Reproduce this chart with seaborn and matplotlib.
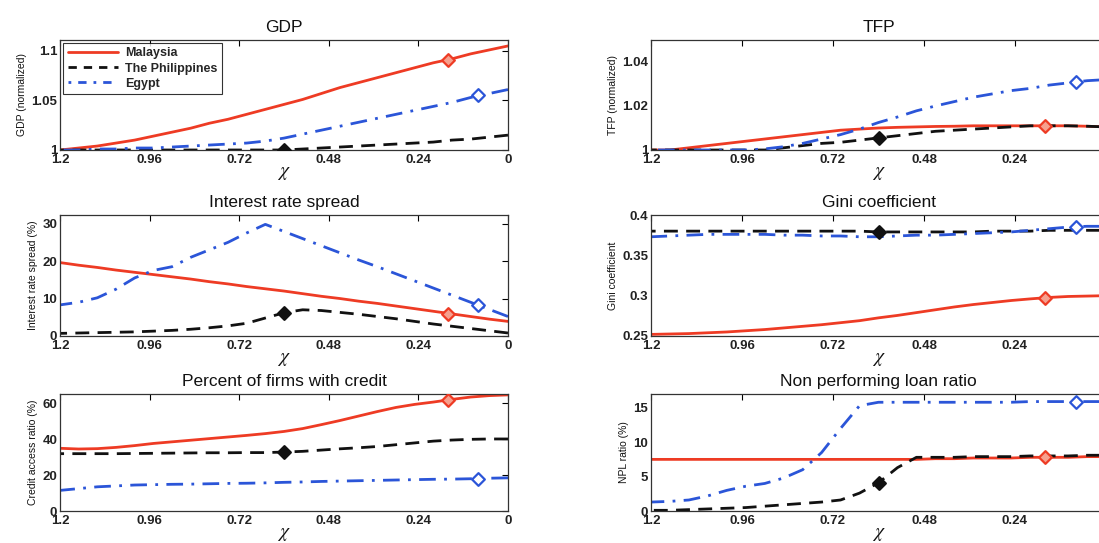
import numpy as np
import pandas as pd
import matplotlib
matplotlib.use("Agg")
import matplotlib.pyplot as plt
from matplotlib.lines import Line2D
import seaborn as sns

# ---------------- data ----------------
chi = [1.2, 1.15, 1.1, 1.05, 1.0, 0.95, 0.9, 0.85, 0.8, 0.75, 0.7, 0.65, 0.6,
       0.55, 0.5, 0.45, 0.4, 0.35, 0.3, 0.25, 0.2, 0.15, 0.1, 0.05, 0.0]

countries = ["Malaysia", "The Philippines", "Egypt"]
marker_chi = [0.16, 0.6, 0.08]   # calibrated chi for each country

# GDP (normalized)
gdp_mal = [1.000, 1.002, 1.004, 1.007, 1.010, 1.014, 1.018, 1.022, 1.027, 1.031, 1.036, 1.041, 1.046,
           1.051, 1.057, 1.063, 1.068, 1.073, 1.078, 1.083, 1.088, 1.092, 1.097, 1.101, 1.105]
gdp_phi = [1.000, 1.000, 1.000, 1.000, 1.000, 1.000, 1.000, 1.000, 1.000, 1.000, 1.000, 1.000, 1.000,
           1.001, 1.002, 1.003, 1.004, 1.005, 1.006, 1.007, 1.008, 1.010, 1.011, 1.013, 1.015]
gdp_egy = [1.000, 1.000, 1.001, 1.001, 1.002, 1.002, 1.003, 1.004, 1.005, 1.006, 1.007, 1.009, 1.012,
           1.016, 1.020, 1.024, 1.028, 1.032, 1.036, 1.040, 1.044, 1.048, 1.053, 1.057, 1.061]
gdp_mk = [1.091, 1.000, 1.055]

# TFP (normalized)
tfp_mal = [1.000, 1.000, 1.001, 1.002, 1.003, 1.004, 1.005, 1.006, 1.007, 1.008, 1.009, 1.0095, 1.010,
           1.0103, 1.0105, 1.0107, 1.0108, 1.011, 1.011, 1.011, 1.011, 1.011, 1.011, 1.0108, 1.0105]
tfp_phi = [1.000, 1.000, 1.000, 1.000, 1.000, 1.000, 1.000, 1.001, 1.002, 1.003, 1.0035, 1.0045, 1.0055,
           1.0065, 1.0075, 1.0085, 1.009, 1.0095, 1.010, 1.0105, 1.011, 1.011, 1.011, 1.0108, 1.0105]
tfp_egy = [1.000, 1.000, 1.000, 1.000, 1.000, 1.000, 1.0005, 1.0015, 1.003, 1.005, 1.007, 1.0095, 1.0125,
           1.015, 1.0178, 1.020, 1.022, 1.024, 1.0255, 1.027, 1.028, 1.0295, 1.0305, 1.0315, 1.032]
tfp_mk = [1.011, 1.0055, 1.031]

# Interest rate spread (%)
irs_mal = [19.6, 18.9, 18.3, 17.6, 17.0, 16.4, 15.8, 15.2, 14.5, 13.9, 13.2, 12.6, 12.0,
           11.3, 10.6, 10.0, 9.3, 8.7, 8.0, 7.3, 6.6, 5.9, 5.2, 4.5, 3.9]
irs_phi = [0.7, 0.8, 0.9, 1.0, 1.1, 1.3, 1.5, 1.8, 2.2, 2.7, 3.4, 4.8, 6.2,
           7.0, 6.8, 6.3, 5.8, 5.2, 4.6, 3.9, 3.2, 2.6, 2.0, 1.4, 0.8]
irs_egy = [8.3, 9.0, 10.2, 12.5, 15.5, 17.5, 18.5, 21.0, 23.0, 25.0, 27.5, 29.8, 27.9,
           26.0, 24.1, 22.2, 20.3, 18.5, 16.6, 14.7, 12.8, 10.9, 9.0, 7.1, 5.2]
irs_mk = [6.0, 6.2, 8.3]

# Gini coefficient
gini_mal = [0.252, 0.2525, 0.253, 0.254, 0.255, 0.2565, 0.258, 0.260, 0.262, 0.264, 0.2665, 0.269, 0.2725,
            0.2755, 0.279, 0.2825, 0.286, 0.289, 0.2915, 0.294, 0.296, 0.2978, 0.299, 0.2995, 0.300]
gini_phi = [0.380, 0.380, 0.380, 0.380, 0.380, 0.380, 0.380, 0.380, 0.380, 0.380, 0.380, 0.380, 0.379,
            0.379, 0.379, 0.379, 0.379, 0.379, 0.380, 0.380, 0.380, 0.381, 0.381, 0.381, 0.381]
gini_egy = [0.373, 0.374, 0.375, 0.376, 0.376, 0.376, 0.376, 0.375, 0.375, 0.374, 0.374, 0.373, 0.373,
            0.374, 0.375, 0.375, 0.376, 0.377, 0.378, 0.379, 0.381, 0.383, 0.385, 0.386, 0.386]
gini_mk = [0.2976, 0.379, 0.385]

# Percent of firms with credit (%)
cr_mal = [35.0, 34.6, 34.8, 35.5, 36.5, 37.7, 38.6, 39.5, 40.4, 41.3, 42.2, 43.2, 44.4,
          46.0, 48.2, 50.5, 53.0, 55.5, 57.8, 59.5, 60.8, 62.3, 63.6, 64.4, 64.8]
cr_phi = [32.0, 32.0, 32.0, 32.0, 32.1, 32.2, 32.3, 32.4, 32.5, 32.5, 32.6, 32.6, 32.9,
          33.3, 34.0, 34.7, 35.3, 36.0, 37.0, 38.0, 39.0, 39.6, 40.0, 40.2, 40.2]
cr_egy = [11.5, 12.5, 13.5, 14.0, 14.5, 14.7, 14.9, 15.0, 15.2, 15.4, 15.5, 15.7, 16.0,
          16.2, 16.5, 16.7, 16.9, 17.1, 17.3, 17.5, 17.7, 17.8, 18.0, 18.3, 18.5]
cr_mk = [61.8, 32.9, 18.0]

# Non performing loan ratio (%)
npl_mal = [7.5, 7.5, 7.5, 7.5, 7.5, 7.5, 7.5, 7.5, 7.5, 7.5, 7.5, 7.5, 7.5,
           7.5, 7.5, 7.6, 7.6, 7.7, 7.7, 7.7, 7.8, 7.8, 7.8, 7.9, 7.9]
npl_phi = [0.1, 0.1, 0.2, 0.3, 0.4, 0.5, 0.7, 0.9, 1.1, 1.3, 1.6, 2.6, 4.1,
           6.3, 7.8, 7.8, 7.8, 7.9, 7.9, 7.9, 8.0, 8.0, 8.0, 8.1, 8.1]
npl_egy = [1.3, 1.4, 1.6, 2.2, 3.0, 3.6, 4.0, 4.8, 6.0, 8.5, 12.0, 15.3, 15.8,
           15.8, 15.8, 15.8, 15.8, 15.8, 15.8, 15.8, 15.9, 15.9, 15.9, 15.9, 15.9]
npl_mk = [7.8, 4.1, 15.9]

xticks = [1.2, 0.96, 0.72, 0.48, 0.24, 0.0]
xticklabels = ["1.2", "0.96", "0.72", "0.48", "0.24", "0"]

panels = [
    dict(title="GDP", ylabel="GDP (normalized)", series=[gdp_mal, gdp_phi, gdp_egy], mk=gdp_mk,
         ylim=(1.0, 1.111), yticks=[1.0, 1.05, 1.1], yticklabels=["1", "1.05", "1.1"]),
    dict(title="TFP", ylabel="TFP (normalized)", series=[tfp_mal, tfp_phi, tfp_egy], mk=tfp_mk,
         ylim=(1.0, 1.05), yticks=[1.0, 1.02, 1.04], yticklabels=["1", "1.02", "1.04"]),
    dict(title="Interest rate spread", ylabel="Interest rate spread (%)", series=[irs_mal, irs_phi, irs_egy],
         mk=irs_mk, ylim=(0, 32.3), yticks=[0, 10, 20, 30], yticklabels=["0", "10", "20", "30"]),
    dict(title="Gini coefficient", ylabel="Gini coefficient", series=[gini_mal, gini_phi, gini_egy],
         mk=gini_mk, ylim=(0.25, 0.4), yticks=[0.25, 0.3, 0.35, 0.4],
         yticklabels=["0.25", "0.3", "0.35", "0.4"]),
    dict(title="Percent of firms with credit", ylabel="Credit access ratio (%)", series=[cr_mal, cr_phi, cr_egy],
         mk=cr_mk, ylim=(0, 65.3), yticks=[0, 20, 40, 60], yticklabels=["0", "20", "40", "60"]),
    dict(title="Non performing loan ratio", ylabel="NPL ratio (%)", series=[npl_mal, npl_phi, npl_egy],
         mk=npl_mk, ylim=(0, 17), yticks=[0, 5, 10, 15], yticklabels=["0", "5", "10", "15"]),
]

# ---------------- style ----------------
sns.set_theme(style="white")
plt.rcParams["font.family"] = ["Liberation Sans", "DejaVu Sans"]
plt.rcParams["mathtext.fontset"] = "stix"

colors = ["#ee3b24", "#111111", "#2b55d8"]
dashes = [(None, None), (5, 3), (6, 3, 1, 3)]
mfaces = ["#f6a08e", "#111111", "white"]

W, H = 1099, 543
fig = plt.figure(figsize=(W / 100, H / 100), dpi=100)

col_x = [(60, 508), (651, 1106)]
row_y = [(40, 150), (215, 336), (394, 511)]

for i, p in enumerate(panels):
    r, c = divmod(i, 2)
    x0, x1 = col_x[c]
    yt, yb = row_y[r]
    ax = fig.add_axes([x0 / W, 1 - yb / H, (x1 - x0) / W, (yb - yt) / H])
    for k, name in enumerate(countries):
        df = pd.DataFrame({"chi": chi, "val": p["series"][k]})
        sns.lineplot(data=df, x="chi", y="val", ax=ax, color=colors[k], linewidth=2.0, legend=False)
        ln = ax.get_lines()[-1]
        if dashes[k][0] is not None:
            ln.set_dashes(dashes[k])
    for k in range(3):
        mdf = pd.DataFrame({"chi": [marker_chi[k]], "val": [p["mk"][k]]})
        sns.scatterplot(data=mdf, x="chi", y="val", ax=ax, marker="D", s=42,
                        facecolor=mfaces[k], edgecolor=colors[k], linewidth=1.6, zorder=5, legend=False)
    ax.set_xlim(1.2, 0.0)
    ax.set_ylim(*p["ylim"])
    ax.set_xticks(xticks)
    # right column is cropped at the figure edge in the reference, so its "0" label is not visible
    ax.set_xticklabels(xticklabels if c == 0 else xticklabels[:-1] + [""])
    ax.set_yticks(p["yticks"])
    ax.set_yticklabels(p["yticklabels"])
    ax.tick_params(direction="in", length=4, width=0.8, top=True, right=True,
                   labelsize=9.5, colors="black")
    ax.tick_params(axis="x", pad=3)
    ax.tick_params(axis="y", pad=2)
    for lab in ax.get_xticklabels() + ax.get_yticklabels():
        lab.set_fontweight("bold")
        lab.set_color("#222222")
    for s in ax.spines.values():
        s.set_color("#333333")
        s.set_linewidth(0.9)
    ax.set_title(p["title"], fontsize=12.5, pad=6, color="#111111")
    ax.set_ylabel(p["ylabel"], fontsize=7.5, labelpad=3, color="#111111")
    ax.set_xlabel(r"$\chi$", fontsize=14, labelpad=-1, color="#111111")
    if i == 0:
        handles = [Line2D([], [], color=colors[k], linewidth=2.0) for k in range(3)]
        handles[1].set_dashes((3, 2.5))
        handles[2].set_dashes((1, 2.5, 3, 2.5))
        leg = ax.legend(handles, countries, loc="upper left", frameon=True,
                        fancybox=False, borderpad=0.35, labelspacing=0.25, handlelength=4.0,
                        handletextpad=0.6, borderaxespad=0.25, prop={"weight": "bold", "size": 9})
        leg.get_frame().set_edgecolor("black")
        leg.get_frame().set_linewidth(0.8)

fig.savefig("out.png", dpi=100)
